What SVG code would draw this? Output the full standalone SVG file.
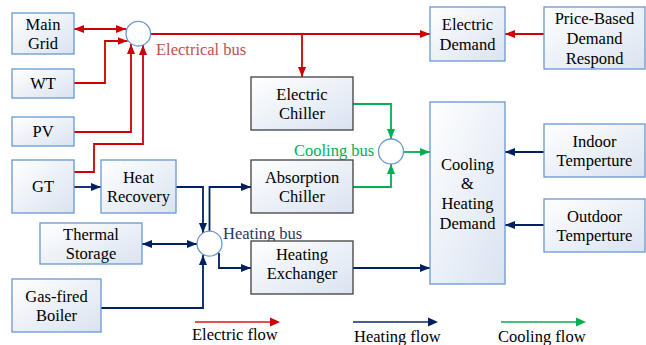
<svg xmlns="http://www.w3.org/2000/svg" width="646" height="345" viewBox="0 0 646 345" font-family="'Liberation Serif', serif">
<defs>
<linearGradient id="gf" x1="0" y1="0" x2="1" y2="1">
<stop offset="0" stop-color="#ffffff"/>
<stop offset="1" stop-color="#d9e3f0"/>
</linearGradient>
<marker id="ar" viewBox="0 0 10 8" refX="10" refY="4" markerWidth="10" markerHeight="8" markerUnits="userSpaceOnUse" orient="auto-start-reverse"><path d="M0,0L10,4L0,8z" fill="#cc0000"/></marker>
<marker id="ab" viewBox="0 0 10 8" refX="10" refY="4" markerWidth="10" markerHeight="8" markerUnits="userSpaceOnUse" orient="auto-start-reverse"><path d="M0,0L10,4L0,8z" fill="#002060"/></marker>
<marker id="ag" viewBox="0 0 10 8" refX="10" refY="4" markerWidth="10" markerHeight="8" markerUnits="userSpaceOnUse" orient="auto-start-reverse"><path d="M0,0L10,4L0,8z" fill="#00b050"/></marker>
</defs>
<style>
text{font-family:'Liberation Serif',serif;font-size:16.5px;fill:#000}
.n rect{fill:url(#gf);stroke:#6a98cf;stroke-width:1.3}
.d rect{fill:url(#gf);stroke:#404040;stroke-width:1.3}
.n text,.d text{text-anchor:middle}
.bus{fill:#ffffff;stroke:#6a98cf;stroke-width:1.3}
.e{fill:none;stroke:#cc0000;stroke-width:1.8;marker-end:url(#ar)}
.h{fill:none;stroke:#002060;stroke-width:1.8;marker-end:url(#ab)}
.c{fill:none;stroke:#00b050;stroke-width:1.8;marker-end:url(#ag)}
</style>
<rect width="646" height="345" fill="#ffffff"/>

<g id="connectors">
<path class="e" d="M74,29H126" style="marker-start:url(#ar)"/>
<path class="e" d="M74,83H105V41H127.5"/>
<path class="e" d="M74,132H131V44"/>
<path class="e" d="M74,172H94V144H143V45"/>
<path class="e" d="M150.5,34H430"/>
<path class="e" d="M302,34V77"/>
<path class="e" d="M544,34H505"/>
<path class="c" d="M353,104H391V139"/>
<path class="c" d="M353,187H391V164"/>
<path class="c" d="M403.5,152H430"/>
<path class="h" d="M544,152H505"/>
<path class="h" d="M544,225H505"/>
<path class="h" d="M353,268H430"/>
<path class="h" d="M74,187H101"/>
<path class="h" d="M176,187H203V233"/>
<path class="h" d="M209.5,231V187H251"/>
<path class="h" d="M142,244H197" style="marker-start:url(#ab)"/>
<path class="h" d="M101,308H203V255"/>
<path class="h" d="M219,253V268H251"/>
</g>

<g id="buses">
<g id="electrical-bus"><circle class="bus" cx="138.3" cy="33.7" r="12.3"/><text x="156" y="55" style="fill:#c0504d">Electrical bus</text></g>
<g id="cooling-bus"><circle class="bus" cx="391" cy="151.5" r="12.5"/><text x="294" y="156" style="fill:#00b050">Cooling bus</text></g>
<g id="heating-bus"><circle class="bus" cx="209.5" cy="243.7" r="12.5"/><text x="223" y="239" style="fill:#1f3864">Heating bus</text></g>
</g>

<g id="main-grid" class="n"><rect x="12" y="13" width="62" height="41"/><text x="43" y="29.5">Main</text><text x="43" y="49">Grid</text></g>
<g id="wt" class="n"><rect x="12" y="69" width="62" height="29"/><text x="43" y="89">WT</text></g>
<g id="pv" class="n"><rect x="12" y="117" width="62" height="29"/><text x="43" y="137">PV</text></g>
<g id="gt" class="n"><rect x="12" y="160" width="62" height="53"/><text x="43" y="192">GT</text></g>
<g id="heat-recovery" class="n"><rect x="101" y="160" width="75" height="53"/><text x="138.5" y="182.5">Heat</text><text x="138.5" y="202">Recovery</text></g>
<g id="thermal-storage" class="n"><rect x="40" y="223" width="102" height="41"/><text x="91" y="239.5">Thermal</text><text x="91" y="259">Storage</text></g>
<g id="gas-boiler" class="n"><rect x="12" y="279" width="89" height="53"/><text x="56.5" y="301.5">Gas-fired</text><text x="56.5" y="321">Boiler</text></g>
<g id="electric-chiller" class="d"><rect x="251" y="77" width="102" height="53"/><text x="302" y="99.5">Electric</text><text x="302" y="119">Chiller</text></g>
<g id="absorption-chiller" class="d"><rect x="251" y="160" width="102" height="53"/><text x="302" y="182.5">Absorption</text><text x="302" y="202">Chiller</text></g>
<g id="heating-exchanger" class="d"><rect x="251" y="241" width="102" height="53"/><text x="302" y="259.5">Heating</text><text x="302" y="279">Exchanger</text></g>
<g id="electric-demand" class="n"><rect x="430" y="7" width="75" height="54"/><text x="467.5" y="30">Electric</text><text x="467.5" y="49.5">Demand</text></g>
<g id="price-based" class="n"><rect x="544" y="7" width="101" height="62"/><text x="594.5" y="23.5">Price-Based</text><text x="594.5" y="43.5">Demand</text><text x="594.5" y="63.5">Respond</text></g>
<g id="ch-demand" class="n"><rect x="430" y="102" width="75" height="182"/><text x="467.5" y="169.5">Cooling</text><text x="467.5" y="189">&amp;</text><text x="467.5" y="208.5">Heating</text><text x="467.5" y="228.5">Demand</text></g>
<g id="indoor" class="n"><rect x="544" y="124" width="101" height="53"/><text x="594.5" y="146.5">Indoor</text><text x="594.5" y="166">Temperture</text></g>
<g id="outdoor" class="n"><rect x="544" y="199" width="101" height="53"/><text x="594.5" y="221.5">Outdoor</text><text x="594.5" y="241">Temperture</text></g>

<g id="legend">
<path d="M195,322H270" stroke="#d9534f" stroke-width="1.8"/><path d="M270,317.5L280,322L270,326.5z" fill="#cc0000"/>
<text x="192" y="340">Electric flow</text>
<path d="M353,322H428" stroke="#4a5f8f" stroke-width="1.8"/><path d="M428,317.5L438,322L428,326.5z" fill="#002060"/>
<text x="354" y="342">Heating flow</text>
<path d="M501,322H576" stroke="#45c07a" stroke-width="1.8"/><path d="M576,317.5L586,322L576,326.5z" fill="#00b050"/>
<text x="498" y="342">Cooling flow</text>
</g>
</svg>
